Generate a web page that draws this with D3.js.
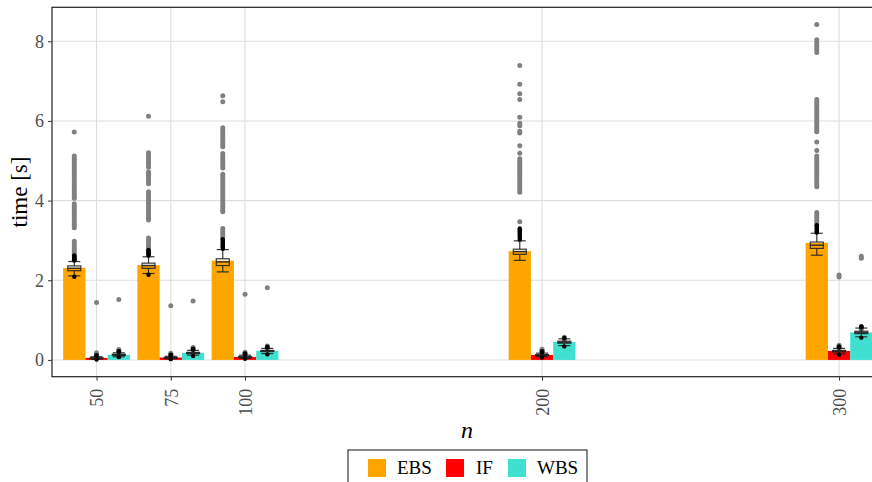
<!DOCTYPE html>
<html><head><meta charset="utf-8">
<script src="https://cdn.jsdelivr.net/npm/d3@7"></script>
<style>body{margin:0;background:#fff}svg{display:block}text{font-family:"Liberation Serif",serif}</style>
</head><body><svg id="c" width="872" height="482"></svg>
<script>
const ns = [50, 75, 100, 200, 300];
const methods = ["EBS", "IF", "WBS"];
const colors = ["#FFA500", "#FF0000", "#40E0D0"];
const yTicks = [0, 2, 4, 6, 8];
// mean time per n
const meanEBS = [2.31, 2.38, 2.49, 2.73, 2.94];
const meanIF = [0.05, 0.06, 0.075, 0.125, 0.225];
const meanWBS = [0.13, 0.18, 0.23, 0.45, 0.69];
// box stats [lower whisker, q1, median, q3, upper whisker]
const boxEBS = [[2.11,2.24,2.30,2.36,2.47],[2.17,2.30,2.37,2.43,2.59],[2.21,2.37,2.46,2.54,2.77],[2.50,2.65,2.72,2.78,2.99],[2.63,2.80,2.88,2.96,3.18]];
const boxIF = [[0.02,0.035,0.045,0.055,0.08],[0.03,0.045,0.055,0.065,0.09],[0.04,0.06,0.07,0.085,0.12],[0.08,0.11,0.12,0.135,0.17],[0.15,0.20,0.22,0.24,0.29]];
const boxWBS = [[0.08,0.115,0.13,0.145,0.18],[0.12,0.16,0.175,0.19,0.24],[0.16,0.21,0.225,0.24,0.29],[0.36,0.42,0.445,0.47,0.53],[0.58,0.66,0.69,0.72,0.80]];
// boxplot outliers (black)
const outEBS = [[2.09,2.50,2.52,2.54,2.56,2.58,2.60,2.62],[2.14,2.62,2.65,2.68,2.71,2.74,2.76],[2.79,2.82,2.85,2.88,2.91,2.94,2.97,3.00,3.03],[3.02,3.06,3.10,3.14,3.18,3.22,3.26,3.30],[3.20,3.23,3.26,3.29,3.32,3.35,3.38]];
const outIF = [[0.01,0.10,0.12],[0.02,0.11,0.13],[0.03,0.14,0.16],[0.06,0.19,0.22],[0.13,0.31,0.34]];
const outWBS = [[0.07,0.20,0.22],[0.10,0.26,0.28],[0.14,0.31,0.33],[0.34,0.55],[0.56,0.82,0.84]];
// individual slow runs (gray points)
const ptsEBS = [
 [5.72,5.12,5.06,5.00,4.94,4.88,4.82,4.76,4.70,4.64,4.58,4.52,4.46,4.40,4.34,4.28,4.22,4.16,4.10,4.06,3.92,3.86,3.80,3.74,3.68,3.62,3.56,3.50,3.44,3.38,3.32,2.98,2.92,2.86,2.80,2.74,2.68,2.62,2.56,2.50],
 [6.12,5.20,5.14,5.08,5.02,4.96,4.90,4.84,4.72,4.66,4.60,4.54,4.48,4.42,4.22,4.16,4.10,4.04,3.98,3.92,3.86,3.80,3.74,3.68,3.62,3.56,3.51,3.06,3.00,2.94,2.88,2.82,2.76,2.70],
 [6.63,6.48,5.83,5.77,5.71,5.65,5.59,5.53,5.47,5.41,5.35,5.18,5.12,5.06,5.00,4.94,4.88,4.82,4.66,4.60,4.54,4.48,4.42,4.36,4.30,4.24,4.18,4.12,4.06,4.00,3.94,3.88,3.82,3.76,3.72,3.30,3.24,3.18,3.12,3.06],
 [7.39,6.92,6.68,6.54,6.09,5.94,5.88,5.74,5.70,5.38,5.19,5.05,4.99,4.93,4.87,4.81,4.75,4.69,4.63,4.57,4.51,4.45,4.39,4.33,4.27,4.21,3.47,3.26],
 [8.42,8.04,7.96,7.90,7.84,7.78,7.72,6.54,6.48,6.42,6.36,6.30,6.24,6.18,6.12,6.06,6.00,5.94,5.88,5.82,5.76,5.73,5.47,5.26,5.12,5.06,5.00,4.94,4.88,4.82,4.76,4.70,4.64,4.58,4.52,4.46,4.40,4.35,3.70,3.64,3.58,3.52,3.46,3.40]
];
const ptsIF = [[1.44,0.18,0.15,0.12],[1.36,0.17,0.14,0.12],[1.65,0.19,0.16,0.13],[0.27,0.24,0.21],[2.13,2.08,0.37,0.34,0.31]];
const ptsWBS = [[1.52,0.26,0.23,0.20],[1.48,0.31,0.28,0.25],[1.81,0.35,0.32,0.29],[0.57,0.54,0.51],[2.60,2.55,0.84,0.80,0.77]];

const means = [meanEBS, meanIF, meanWBS];
const boxes = [boxEBS, boxIF, boxWBS];
const outs = [outEBS, outIF, outWBS];
const pts = [ptsEBS, ptsIF, ptsWBS];

const svg = d3.select("#c");
const x = d3.scaleLinear().domain([35, 315]).range([52, 883.6]);
const y = d3.scaleLinear().domain([-0.421, 8.853]).range([376.7, 7.3]);
const bw = 7.5; // bar width in n units
const off = [-bw, 0, bw];
const boxW = 13, capW = 12;

const panel = svg.append("g");
// grid
panel.selectAll(".gy").data(yTicks).join("line")
  .attr("x1", 52).attr("x2", 884).attr("y1", d => y(d)).attr("y2", d => y(d))
  .attr("stroke", "#dedede").attr("stroke-width", 1.1);
panel.selectAll(".gx").data(ns).join("line")
  .attr("x1", d => x(d)).attr("x2", d => x(d)).attr("y1", 7.3).attr("y2", 376.7)
  .attr("stroke", "#dedede").attr("stroke-width", 1.1);

const recs = [];
methods.forEach((m, mi) => ns.forEach((n, ni) => recs.push({
  m, mi, n, cx: n + off[mi], mean: means[mi][ni], box: boxes[mi][ni], out: outs[mi][ni], pts: pts[mi][ni]
})));

// bars
panel.selectAll(".bar").data(recs).join("rect")
  .attr("x", d => x(d.cx - bw / 2)).attr("width", d => x(d.cx + bw / 2) - x(d.cx - bw / 2))
  .attr("y", d => y(d.mean)).attr("height", d => y(0) - y(d.mean))
  .attr("fill", d => colors[d.mi]);

// gray points
recs.forEach(r => {
  panel.selectAll(null).data(r.pts).join("circle")
    .attr("cx", x(r.cx)).attr("cy", v => y(v)).attr("r", 2.5)
    .attr("fill", "#808080");
});

// boxplots
recs.forEach(r => {
  const g = panel.append("g").attr("stroke", "#222").attr("stroke-opacity", 0.9).attr("fill", "none").attr("stroke-width", 1.2);
  const cx = x(r.cx);
  const [lo, q1, md, q3, hi] = r.box;
  g.append("line").attr("x1", cx).attr("x2", cx).attr("y1", y(hi)).attr("y2", y(q3));
  g.append("line").attr("x1", cx).attr("x2", cx).attr("y1", y(q1)).attr("y2", y(lo));
  g.append("line").attr("x1", cx - capW / 2).attr("x2", cx + capW / 2).attr("y1", y(hi)).attr("y2", y(hi));
  g.append("line").attr("x1", cx - capW / 2).attr("x2", cx + capW / 2).attr("y1", y(lo)).attr("y2", y(lo));
  g.append("rect").attr("x", cx - boxW / 2).attr("width", boxW).attr("y", y(q3)).attr("height", Math.max(0.5, y(q1) - y(q3)));
  g.append("line").attr("x1", cx - boxW / 2).attr("x2", cx + boxW / 2).attr("y1", y(md)).attr("y2", y(md)).attr("stroke-width", 1.5);
  panel.selectAll(null).data(r.out).join("circle")
    .attr("cx", cx).attr("cy", v => y(v)).attr("r", 2.2).attr("fill", "#000");
});

// border
svg.append("rect").attr("x", 52).attr("y", 7.3).attr("width", 832).attr("height", 369.4)
  .attr("fill", "none").attr("stroke", "#222").attr("stroke-width", 1.2);

// axes
const ya = svg.append("g").attr("transform", "translate(52,0)")
  .call(d3.axisLeft(y).tickValues(yTicks).tickSize(4).tickPadding(4).tickFormat(d3.format("d")));
ya.select(".domain").remove();
ya.selectAll("line").attr("stroke", "#333");
ya.selectAll("text").attr("font-size", 18).attr("fill", "#4d4d4d").attr("font-family", "Liberation Serif");

const xa = svg.append("g").attr("transform", "translate(0,376.7)")
  .call(d3.axisBottom(x).tickValues(ns).tickSize(4).tickFormat(d3.format("d")));
xa.select(".domain").remove();
xa.selectAll("line").attr("stroke", "#333");
xa.selectAll("text").attr("font-size", 18).attr("fill", "#4d4d4d").attr("font-family", "Liberation Serif")
  .attr("transform", "rotate(-90)").attr("text-anchor", "end").attr("x", -12).attr("y", 0).attr("dy", "0.35em");

// titles
svg.append("text").attr("transform", "translate(27,192) rotate(-90)").attr("text-anchor", "middle")
  .attr("font-size", 23).attr("fill", "#000").text("time [s]");
svg.append("text").attr("x", 467).attr("y", 438).attr("text-anchor", "middle")
  .attr("font-size", 24).attr("font-style", "italic").attr("fill", "#000").text("n");

// legend
const lg = svg.append("g");
lg.append("rect").attr("x", 348).attr("y", 450).attr("width", 239).attr("height", 50)
  .attr("fill", "#fff").attr("stroke", "#111").attr("stroke-width", 1);
const keyX = [368, 446, 508];
const labX = [397, 476, 537];
methods.forEach((m, i) => {
  lg.append("rect").attr("x", keyX[i]).attr("y", 459).attr("width", 18).attr("height", 18).attr("fill", colors[i]);
  lg.append("text").attr("x", labX[i]).attr("y", 474).attr("font-size", 19).attr("fill", "#000").text(m);
});
</script></body></html>
